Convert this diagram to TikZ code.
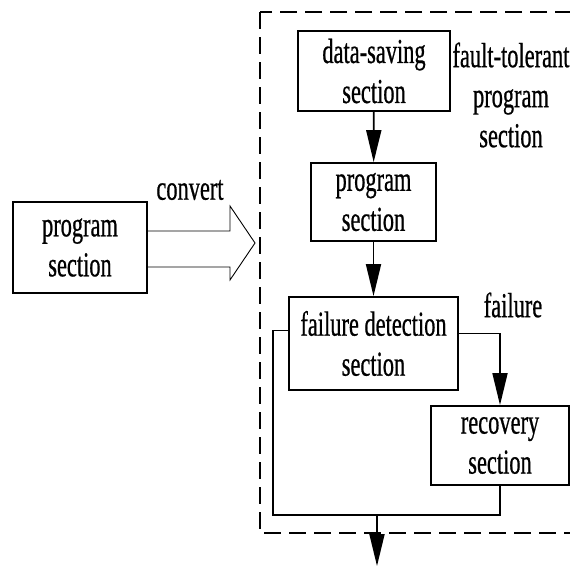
\documentclass[tikz,border=0pt]{standalone}
\usepackage{fontspec}
\setmainfont{Liberation Serif}[FakeStretch=0.64, FakeBold=0.6]
\usetikzlibrary{arrows.meta}
\begin{document}
\begin{tikzpicture}[x=1pt, y=-1pt,
        block/.style={rectangle, draw, line width=1.8pt, align=center, inner sep=0pt},
        label/.style={align=center, inner sep=0pt},
        flow/.style={-{Triangle[length=32pt, width=15pt]}, line width=1.8pt},
        link/.style={line width=1.8pt},
        every node/.style={font=\fontsize{35}{40}\selectfont}
        ]
      \useasboundingbox (0,0) rectangle (570,566);
      % fault-tolerant frame
      \draw[line width=2.2pt, dash pattern=on 17pt off 8pt] (260,12) rectangle (620,533);

      \node[block, minimum width=134pt, minimum height=91pt] (src) at (80,247.5) {program\\section};
      \node[block, minimum width=152pt, minimum height=80pt] (save) at (374,71) {data-saving\\section};
      \node[block, minimum width=125pt, minimum height=78pt] (prog) at (373.5,202) {program\\section};
      \node[block, minimum width=169pt, minimum height=93pt] (detect) at (373.5,343.5) {failure detection\\section};
      \node[block, minimum width=138pt, minimum height=79pt] (recover) at (500,445.5) {recovery\\section};

      \node[label] (conv) at (190,190) {convert};
      \node[label] (fail) at (513,305) {failure};
      \node[label] (ftp) at (511,95) {fault-tolerant\\program\\section};

      \coordinate (loop) at (273,515);
      \coordinate (merge) at (377,515);
      \coordinate (out) at (377,566);

      % hollow convert arrow
      \draw[line width=0.9pt] (src.east |- 0,231) -- (230,231) -- (230,206) -- (255,243)
        -- (230,280) -- (230,267) -- (src.east |- 0,267);

      \draw[flow] (save) -- (prog);
      \draw[flow] (prog) -- (detect);
      \draw[flow] ([yshift=10pt]detect.east) -| (recover.north);
      \draw[link] (recover.south) |- (loop) |- ([yshift=13pt]detect.west);
      \draw[flow] (merge) -- (out);

    \end{tikzpicture}
\end{document}
